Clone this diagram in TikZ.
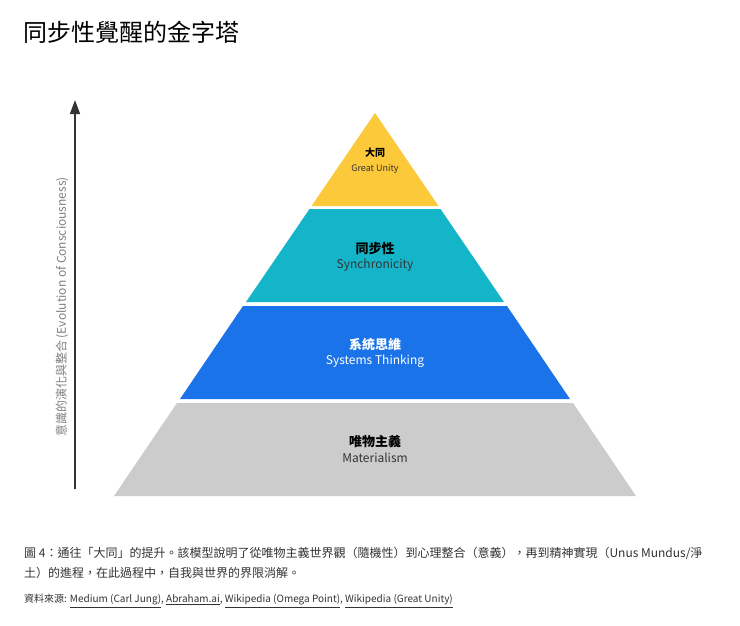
\documentclass[tikz,border=0pt]{standalone}
\usepackage{fontspec}
\setmainfont{Noto Sans CJK TC}
\usetikzlibrary{arrows.meta}
\definecolor{cy}{HTML}{FBC93A}
\definecolor{ct}{HTML}{15B5C9}
\definecolor{cb}{HTML}{1A73E8}
\definecolor{cg}{HTML}{CCCCCC}
\definecolor{txt}{HTML}{333333}
\tikzset{band/.style={draw=none},
 zh/.style={font=\fontsize{13}{15}\selectfont\bfseries, text=black},
 en/.style={font=\fontsize{12}{14}\selectfont, text=txt},
 captext/.style={font=\fontsize{12}{16}\selectfont, text=txt, anchor=west, inner sep=0pt}}
\begin{document}
\begin{tikzpicture}[x=1pt,y=-1pt]
\useasboundingbox[fill=white] (0,0) rectangle (740,625);
\node[anchor=west,inner sep=0pt,font=\fontsize{24}{28}\selectfont] (title) at (23,32) {同步性覺醒的金字塔};
\fill[cy] (375,113) -- (438.5,206) -- (311.5,206) -- cycle;
\fill[ct] (309.5,209) -- (440.5,209) -- (504,302) -- (246,302) -- cycle;
\fill[cb] (243,306) -- (507,306) -- (570,399) -- (180,399) -- cycle;
\fill[cg] (177,403) -- (573,403) -- (636,496) -- (114,496) -- cycle;
\node[zh,font=\fontsize{10}{12}\selectfont\bfseries] (y1) at (375,153) {大同};
\node[en,font=\fontsize{9}{11}\selectfont] (y2) at (375,169) {Great Unity};
\node[zh] (t1) at (375,249) {同步性};
\node[en] (t2) at (375,265) {Synchronicity};
\node[zh,text=white] (b1) at (375,345) {系統思維};
\node[en,text=white] (b2) at (375,361) {Systems Thinking};
\node[zh] (g1) at (375,442) {唯物主義};
\node[en] (g2) at (375,458) {Materialism};
\coordinate (a0) at (75,489);
\coordinate (a1) at (75,100);
\draw[line width=1.5pt,color=txt,-{Triangle[length=14pt,width=10pt]}] (a0) -- (a1);
\node[rotate=90,font=\fontsize{12}{14}\selectfont,text=gray] (axis) at (62,307) {意識的演化與整合 (Evolution of Consciousness)};
\node[captext] (c1) at (24,553) {圖 4：通往「大同」的提升。該模型說明了從唯物主義世界觀（隨機性）到心理整合（意義），再到精神實現（Unus Mundus/淨};
\node[captext] (c2) at (24,573) {土）的進程，在此過程中，自我與世界的界限消解。};
\node[captext,font=\fontsize{10}{12}\selectfont] (src) at (24,601) {資料來源: \underline{Medium (Carl Jung)}, \underline{Abraham.ai}, \underline{Wikipedia (Omega Point)}, \underline{Wikipedia (Great Unity)}};
\end{tikzpicture}
\end{document}
